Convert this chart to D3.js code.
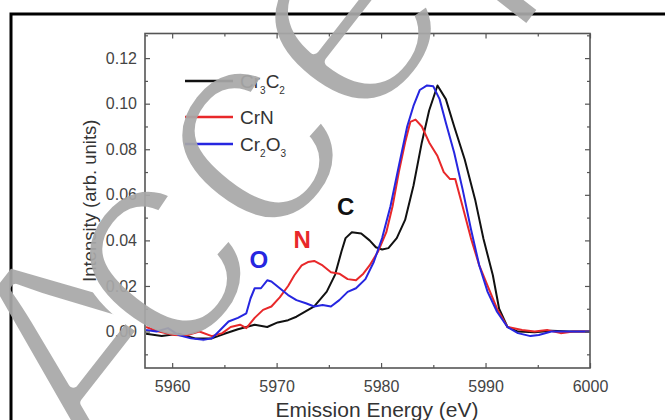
<!DOCTYPE html>
<html>
<head>
<meta charset="utf-8">
<script src="https://cdn.jsdelivr.net/npm/d3@7"></script>
<style>
  body { margin: 0; background: #fff; }
  svg { display: block; }
  text { font-family: Arial, "Liberation Sans", sans-serif; }
</style>
</head>
<body>
<div id="container"></div>
<script>
// ---------------------------- DATA ----------------------------//
// emission energy (eV), intensity (arb. units)
var energyCr3C2 = [5957.5, 5959.0, 5960.6, 5962.2, 5963.8, 5965.0, 5966.3, 5967.9, 5969.1, 5970.1, 5971.1, 5971.9, 5973.6, 5974.8, 5975.6, 5976.2, 5976.6, 5977.2, 5978.1, 5978.9, 5979.5, 5980.1, 5980.7, 5981.5, 5982.3, 5983.1, 5983.9, 5984.6, 5985.4, 5986.2, 5987.0, 5988.0, 5989.0, 5989.8, 5990.7, 5991.3, 5992.1, 5993.1, 5994.7, 5996.3, 5998.0, 6000.0];
var intensityCr3C2 = [-0.001, -0.002, -0.001, -0.003, -0.003, -0.001, 0.001, 0.003, 0.002, 0.004, 0.005, 0.0065, 0.011, 0.0175, 0.025, 0.035, 0.041, 0.0436, 0.043, 0.040, 0.037, 0.036, 0.0366, 0.041, 0.049, 0.064, 0.083, 0.097, 0.108, 0.102, 0.090, 0.0756, 0.058, 0.0407, 0.0247, 0.010, 0.002, 0.000, -0.0003, 0.0003, 0.000, 0.000];

var energyCrN = [5957.5, 5958.7, 5960.2, 5961.4, 5962.6, 5963.8, 5964.8, 5965.6, 5966.5, 5967.1, 5967.9, 5968.7, 5969.5, 5970.3, 5971.1, 5971.7, 5972.4, 5973.0, 5973.6, 5974.4, 5975.2, 5976.0, 5976.8, 5977.6, 5978.3, 5978.9, 5979.7, 5980.5, 5981.1, 5981.7, 5982.3, 5982.8, 5983.3, 5983.9, 5984.6, 5985.4, 5986.0, 5986.6, 5987.1, 5987.8, 5988.6, 5989.4, 5990.2, 5991.1, 5992.1, 5993.5, 5994.7, 5995.9, 5997.2, 5998.4, 6000.0];
var intensityCrN = [0.002, 0.000, -0.0015, -0.0017, 0.000, -0.002, -0.0007, 0.002, 0.003, 0.0015, 0.006, 0.0095, 0.011, 0.015, 0.020, 0.0247, 0.029, 0.0305, 0.031, 0.029, 0.026, 0.0254, 0.023, 0.0225, 0.0254, 0.029, 0.035, 0.0436, 0.055, 0.070, 0.083, 0.092, 0.093, 0.090, 0.083, 0.077, 0.070, 0.0669, 0.0669, 0.055, 0.041, 0.029, 0.020, 0.010, 0.002, 0.0007, 0.000, 0.0007, -0.0007, 0.000, 0.000];

var energyCr2O3 = [5957.5, 5958.5, 5959.6, 5960.6, 5961.8, 5963.0, 5963.8, 5964.6, 5965.4, 5966.3, 5967.1, 5967.5, 5967.9, 5968.5, 5969.1, 5969.5, 5970.3, 5971.1, 5971.9, 5972.8, 5973.6, 5974.4, 5975.2, 5976.0, 5976.8, 5977.6, 5978.5, 5979.3, 5980.1, 5980.9, 5981.7, 5982.5, 5983.1, 5983.7, 5984.4, 5985.0, 5985.6, 5986.2, 5987.0, 5987.8, 5988.6, 5989.4, 5990.2, 5991.1, 5992.1, 5993.1, 5994.3, 5995.1, 5996.3, 5998.0, 6000.0];
var intensityCr2O3 = [0.0007, 0.000, 0.0015, -0.0015, -0.003, -0.0036, -0.003, 0.0007, 0.0044, 0.006, 0.008, 0.0145, 0.019, 0.019, 0.0225, 0.022, 0.019, 0.016, 0.0138, 0.0124, 0.011, 0.0116, 0.011, 0.0138, 0.0174, 0.019, 0.023, 0.0305, 0.041, 0.055, 0.0727, 0.090, 0.099, 0.106, 0.108, 0.1076, 0.102, 0.0916, 0.0785, 0.0625, 0.045, 0.029, 0.0174, 0.0087, 0.002, -0.0007, -0.002, -0.0015, 0.000, 0.000, 0.000];

var seriesNames = ["Cr3C2", "CrN", "Cr2O3"];
var xTicks = [5960, 5970, 5980, 5990, 6000];
var yTicks = [0.00, 0.02, 0.04, 0.06, 0.08, 0.10, 0.12];

// ---------------------------- SETUP ----------------------------//
var width = 665;
var height = 420;
var colors = ["#111111", "#e8282a", "#2626e0"];

var svg = d3.select("div#container").append("svg")
    .attr("width", width)
    .attr("height", height);

var xScale = d3.scaleLinear().domain([5957.4, 6000]).range([145, 590]);
var yScale = d3.scaleLinear().domain([-0.016, 0.1308]).range([368, 33.5]);

var slices = [
    { id: seriesNames[0], values: energyCr3C2.map(function (e, i) { return { e: e, v: intensityCr3C2[i] }; }) },
    { id: seriesNames[1], values: energyCrN.map(function (e, i) { return { e: e, v: intensityCrN[i] }; }) },
    { id: seriesNames[2], values: energyCr2O3.map(function (e, i) { return { e: e, v: intensityCr2O3[i] }; }) }
];

// outer frame
svg.append("rect")
    .attr("x", 11).attr("y", 14)
    .attr("width", 700).attr("height", 500)
    .attr("fill", "none")
    .attr("stroke", "#000")
    .attr("stroke-width", 3);

// ---------------------------- LINES ----------------------------//
var line = d3.line()
    .x(function (d) { return xScale(d.e); })
    .y(function (d) { return yScale(d.v); });

svg.append("g").selectAll(".series")
    .data(slices)
    .enter().append("path")
    .attr("class", "series")
    .attr("d", function (d) { return line(d.values); })
    .attr("fill", "none")
    .attr("stroke", function (d, i) { return colors[i]; })
    .attr("stroke-width", 2)
    .attr("stroke-linejoin", "round");

// ---------------------------- AXES ----------------------------//
var axisColor = "#555";
var x0 = xScale.range()[0], x1 = xScale.range()[1];
var y0 = yScale.range()[0], y1 = yScale.range()[1];

function styleAxis(g) {
    g.select(".domain").remove();
    g.selectAll(".tick line").attr("stroke", axisColor).attr("stroke-width", 1.2);
    g.selectAll(".tick text").attr("fill", "#444").style("font-size", "16px");
}

var xMinor = d3.range(5965, 6000, 10);
var yMinor = d3.range(-0.01, 0.131, 0.02);

// bottom
svg.append("g").attr("transform", "translate(0," + y0 + ")")
    .call(d3.axisBottom(xScale).tickValues(xTicks).tickSize(-5).tickPadding(13).tickFormat(d3.format("d")))
    .call(styleAxis);
svg.append("g").attr("transform", "translate(0," + y0 + ")")
    .call(d3.axisBottom(xScale).tickValues(xMinor).tickSize(-3).tickFormat(""))
    .call(styleAxis);
// top
svg.append("g").attr("transform", "translate(0," + y1 + ")")
    .call(d3.axisTop(xScale).tickValues(xTicks).tickSize(-5).tickFormat(""))
    .call(styleAxis);
svg.append("g").attr("transform", "translate(0," + y1 + ")")
    .call(d3.axisTop(xScale).tickValues(xMinor).tickSize(-3).tickFormat(""))
    .call(styleAxis);
// left
svg.append("g").attr("transform", "translate(" + x0 + ",0)")
    .call(d3.axisLeft(yScale).tickValues(yTicks).tickSize(-5).tickPadding(8).tickFormat(d3.format(".2f")))
    .call(styleAxis);
svg.append("g").attr("transform", "translate(" + x0 + ",0)")
    .call(d3.axisLeft(yScale).tickValues(yMinor).tickSize(-3).tickFormat(""))
    .call(styleAxis);
// right
svg.append("g").attr("transform", "translate(" + x1 + ",0)")
    .call(d3.axisRight(yScale).tickValues(yTicks).tickSize(-5).tickFormat(""))
    .call(styleAxis);
svg.append("g").attr("transform", "translate(" + x1 + ",0)")
    .call(d3.axisRight(yScale).tickValues(yMinor).tickSize(-3).tickFormat(""))
    .call(styleAxis);

svg.append("rect")
    .attr("x", x0).attr("y", y1)
    .attr("width", x1 - x0).attr("height", y0 - y1)
    .attr("fill", "none")
    .attr("stroke", axisColor)
    .attr("stroke-width", 1.6);

// axis titles
svg.append("text")
    .attr("x", 377)
    .attr("y", 417)
    .attr("text-anchor", "middle")
    .style("font-size", "21px")
    .attr("fill", "#333")
    .text("Emission Energy (eV)");

svg.append("text")
    .attr("transform", "translate(96," + ((y0 + y1) / 2) + ") rotate(-90)")
    .attr("text-anchor", "middle")
    .style("font-size", "18.5px")
    .attr("fill", "#333")
    .text("Intensity (arb. units)");

// ---------------------------- LEGEND ----------------------------//
var legendY = [81, 117, 144];
var legend = svg.append("g");
slices.forEach(function (s, i) {
    legend.append("line")
        .attr("x1", 185).attr("x2", 233)
        .attr("y1", legendY[i]).attr("y2", legendY[i])
        .attr("stroke", colors[i])
        .attr("stroke-width", 2.5);
    var t = legend.append("text")
        .attr("x", 240).attr("y", legendY[i] + 7)
        .attr("fill", "#333")
        .style("font-size", "19px");
    // letters normal, digits as subscripts
    var parts = s.id.match(/[A-Za-z]+|\d+/g);
    var shifted = false;
    parts.forEach(function (p) {
        if (/\d/.test(p)) {
            t.append("tspan").attr("dy", 6).style("font-size", "10px").text(p);
            shifted = true;
        } else {
            t.append("tspan").attr("dy", shifted ? -6 : 0).text(p);
            shifted = false;
        }
    });
});

// ---------------------------- PEAK LABELS ----------------------------//
var peakLabels = [
    { t: "O", e: 5968.3, v: 0.028, c: colors[2] },
    { t: "N", e: 5972.45, v: 0.0367, c: colors[1] },
    { t: "C", e: 5976.6, v: 0.0512, c: colors[0] }
];
svg.selectAll(".peak")
    .data(peakLabels)
    .enter().append("text")
    .attr("class", "peak")
    .attr("x", function (d) { return xScale(d.e); })
    .attr("y", function (d) { return yScale(d.v); })
    .attr("text-anchor", "middle")
    .style("font-size", "24px")
    .style("font-weight", "bold")
    .attr("fill", function (d) { return d.c; })
    .text(function (d) { return d.t; });

// ---------------------------- WATERMARK ----------------------------//
// glyphs are thinned through a mask: white fill, black outline stroke
var mask = svg.append("defs").append("mask").attr("id", "wmMask");
mask.append("rect").attr("width", width).attr("height", height).attr("fill", "#000");
var wm = mask.append("g")
    .attr("transform", "translate(100,482) rotate(-52)")
    .attr("fill", "#fff")
    .attr("stroke", "#000")
    .attr("stroke-width", 10)
    .attr("stroke-linejoin", "round")
    .style("font-family", "Roboto, 'Open Sans', sans-serif")
    .style("font-size", "300px");

var wmA = wm.append("text").attr("x", 0).attr("y", 0).text("A");
var aLen = wmA.node().getComputedTextLength();
wm.append("text").attr("x", aLen - 68).attr("y", -4).text("ccepted");

svg.append("rect")
    .attr("width", width).attr("height", height)
    .attr("fill", "#a8a8a8")
    .attr("opacity", 0.93)
    .attr("mask", "url(#wmMask)");
</script>
</body>
</html>
